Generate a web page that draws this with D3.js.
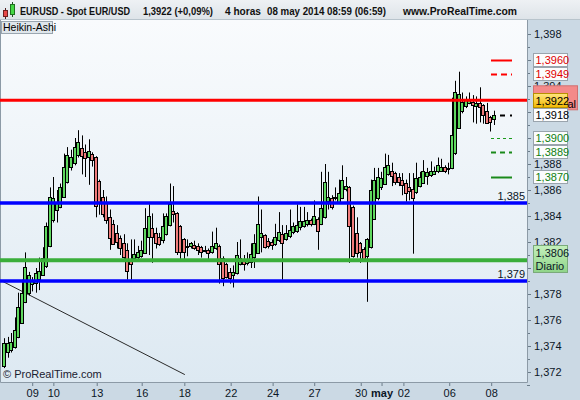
<!DOCTYPE html>
<html><head><meta charset="utf-8">
<script src="https://cdn.jsdelivr.net/npm/d3@7"></script>
<style>
html,body{margin:0;padding:0;background:#cbd9e4;}
svg{display:block;font-family:"Liberation Sans",Arial,sans-serif;}
</style></head><body>
<svg id="c" width="580" height="400"></svg>
<script>
// ---------- DATA (Heikin-Ashi 4h candles, EUR/USD) ----------
const openP = [1.3724,1.3735,1.3737,1.3739,1.3747,1.3758,1.3774,1.3781,1.3788,1.3788,1.3792,1.3795,1.3801,1.3817,1.3837,1.3845,1.3847,1.3855,1.3866,1.3877,
1.3881,1.3887,1.3892,1.3889,1.3885,1.3888,1.3885,1.3867,1.3855,1.3851,1.3839,1.3834,1.3827,1.3823,1.3819,1.3814,1.3805,1.3808,1.3808,1.3809,
1.3812,1.3824,1.3831,1.3827,1.3824,1.3821,1.3826,1.3833,1.3844,1.3842,1.3832,1.3822,1.3816,1.3817,1.3818,1.3817,1.3816,1.3813,1.3814,1.3812,
1.3815,1.3817,1.3808,1.3803,1.3797,1.3795,1.3796,1.3803,1.3806,1.3804,1.3805,1.3808,1.3812,1.3824,1.3825,1.3821,1.3820,1.3819,1.3822,1.3826,
1.3822,1.3824,1.3827,1.3828,1.3831,1.3832,1.3834,1.3837,1.3834,1.3838,1.3834,1.3839,1.3852,1.3854,1.3854,1.3851,1.3854,1.3861,1.3862,1.3847,
1.3827,1.3819,1.3815,1.3809,1.3816,1.3838,1.3854,1.3862,1.3865,1.3872,1.3875,1.3873,1.3870,1.3868,1.3865,1.3862,1.3861,1.3858,1.3863,1.3866,
1.3871,1.3872,1.3873,1.3874,1.3875,1.3878,1.3876,1.3877,1.3888,1.3908,1.3921,1.3924,1.3927,1.3928,1.3925,1.3927,1.3925,1.3921,1.3916,1.3915];
const highP = [1.3746,1.3747,1.3750,1.3762,1.3781,1.3791,1.3812,1.3797,1.3793,1.3800,1.3808,1.3816,1.3835,1.3862,1.3870,1.3860,1.3865,1.3888,1.3893,1.3891,
1.3900,1.3906,1.3902,1.3895,1.3899,1.3889,1.3886,1.3868,1.3860,1.3855,1.3845,1.3837,1.3833,1.3825,1.3826,1.3819,1.3822,1.3822,1.3817,1.3821,
1.3846,1.3849,1.3842,1.3831,1.3827,1.3842,1.3842,1.3865,1.3863,1.3843,1.3833,1.3823,1.3822,1.3820,1.3821,1.3819,1.3817,1.3817,1.3815,1.3828,
1.3831,1.3818,1.3809,1.3804,1.3800,1.3802,1.3820,1.3822,1.3810,1.3812,1.3819,1.3826,1.3855,1.3845,1.3826,1.3823,1.3822,1.3834,1.3843,1.3833,
1.3833,1.3845,1.3835,1.3849,1.3847,1.3847,1.3843,1.3838,1.3852,1.3839,1.3874,1.3880,1.3874,1.3856,1.3862,1.3868,1.3879,1.3870,1.3863,1.3848,
1.3839,1.3820,1.3816,1.3823,1.3868,1.3877,1.3877,1.3874,1.3888,1.3887,1.3881,1.3874,1.3873,1.3873,1.3868,1.3873,1.3873,1.3881,1.3874,1.3883,
1.3877,1.3882,1.3878,1.3885,1.3884,1.3879,1.3881,1.3931,1.3944,1.3951,1.3935,1.3932,1.3935,1.3933,1.3932,1.3939,1.3926,1.3927,1.3917,1.3921];
const lowP = [1.3723,1.3731,1.3735,1.3738,1.3746,1.3757,1.3773,1.3779,1.3782,1.3781,1.3783,1.3794,1.3800,1.3816,1.3835,1.3835,1.3846,1.3854,1.3865,1.3875,
1.3879,1.3885,1.3872,1.3870,1.3864,1.3878,1.3839,1.3841,1.3839,1.3834,1.3814,1.3818,1.3815,1.3810,1.3807,1.3791,1.3791,1.3805,1.3806,1.3808,
1.3811,1.3810,1.3804,1.3815,1.3817,1.3819,1.3825,1.3832,1.3835,1.3810,1.3806,1.3806,1.3809,1.3815,1.3814,1.3810,1.3808,1.3812,1.3805,1.3811,
1.3814,1.3788,1.3786,1.3792,1.3788,1.3785,1.3795,1.3802,1.3798,1.3802,1.3800,1.3800,1.3811,1.3812,1.3815,1.3815,1.3814,1.3817,1.3820,1.3791,
1.3821,1.3823,1.3826,1.3827,1.3829,1.3831,1.3832,1.3832,1.3833,1.3814,1.3833,1.3838,1.3845,1.3845,1.3852,1.3850,1.3853,1.3859,1.3804,1.3808,
1.3808,1.3804,1.3805,1.3774,1.3815,1.3837,1.3852,1.3860,1.3864,1.3871,1.3863,1.3864,1.3863,1.3856,1.3851,1.3852,1.3811,1.3857,1.3862,1.3865,
1.3864,1.3870,1.3872,1.3873,1.3874,1.3873,1.3872,1.3876,1.3887,1.3907,1.3919,1.3923,1.3926,1.3912,1.3911,1.3912,1.3911,1.3911,1.3905,1.3910];
const closeP = [1.3742,1.3742,1.3743,1.3752,1.3770,1.3781,1.3801,1.3795,1.3791,1.3796,1.3798,1.3808,1.3832,1.3855,1.3854,1.3851,1.3862,1.3878,1.3887,1.3885,
1.3893,1.3897,1.3886,1.3884,1.3890,1.3883,1.3847,1.3851,1.3842,1.3837,1.3823,1.3819,1.3820,1.3815,1.3808,1.3798,1.3803,1.3811,1.3812,1.3814,
1.3831,1.3840,1.3824,1.3819,1.3819,1.3832,1.3840,1.3849,1.3842,1.3812,1.3812,1.3812,1.3817,1.3819,1.3816,1.3814,1.3812,1.3814,1.3812,1.3817,
1.3819,1.3803,1.3793,1.3793,1.3792,1.3797,1.3810,1.3808,1.3803,1.3807,1.3811,1.3819,1.3834,1.3827,1.3816,1.3817,1.3818,1.3824,1.3828,1.3819,
1.3827,1.3829,1.3832,1.3833,1.3836,1.3836,1.3837,1.3834,1.3840,1.3829,1.3846,1.3866,1.3855,1.3847,1.3855,1.3858,1.3868,1.3863,1.3832,1.3809,
1.3812,1.3812,1.3807,1.3822,1.3860,1.3868,1.3870,1.3869,1.3878,1.3879,1.3871,1.3866,1.3866,1.3864,1.3857,1.3859,1.3854,1.3869,1.3870,1.3875,
1.3874,1.3875,1.3875,1.3879,1.3878,1.3875,1.3877,1.3902,1.3935,1.3934,1.3928,1.3929,1.3929,1.3926,1.3927,1.3924,1.3917,1.3912,1.3912,1.3918];

const dayTickIndex = [8, 14, 26.3, 39.06, 51.15, 64.3, 76.2, 88, 101.2, 107.1, 113.3, 126.3, 138.2];
const dayTickLabels = ["09","10","13","16","18","22","24","27","30","may","02","06","08"];
const priceMajorTicks = [1.372,1.374,1.376,1.378,1.380,1.382,1.384,1.386,1.388,1.390,1.392,1.394,1.396,1.398];
const priceMinorTicks = [1.371,1.373,1.375,1.377,1.379,1.381,1.383,1.385,1.387,1.389,1.391,1.393,1.395,1.397];
const hiddenTickLabels = [1.380, 1.390, 1.392, 1.396];   // covered by value boxes in the original
const supportLevels = [1.385, 1.379];      // blue
const dailyLevel = 1.3806;                  // green "Diario"
const weeklyLevel = 1.3929;                 // red "Semanal"
const targetValues = [1.3960, 1.3949, 1.3918, 1.3900, 1.3889, 1.3870];
const trendIdx = [-0.6, 51.3];
const trendPrice = [1.3790, 1.3718];
const lastPrice = 1.3922;
const headerTexts = ["EURUSD - Spot EUR/USD", "1,3922 (+0,09%)", "4 horas", "08 may 2014 08:59 (06:59)", "www.ProRealTime.com"];

// ---------- LAYOUT ----------
const W = 580, H = 400;
const plotL = 0, plotR = 527, plotT = 20, plotB = 382;
const svg = d3.select("#c");
const defs = svg.append("defs");
const g1 = defs.append("linearGradient").attr("id","plotbg").attr("x1",0).attr("y1",0).attr("x2",0).attr("y2",1);
g1.append("stop").attr("offset","0").attr("stop-color","#f9fbfd");
g1.append("stop").attr("offset","1").attr("stop-color","#dde9f2");
const g2 = defs.append("linearGradient").attr("id","hdr").attr("x1",0).attr("y1",0).attr("x2",0).attr("y2",1);
g2.append("stop").attr("offset","0").attr("stop-color","#eef1f4");
g2.append("stop").attr("offset","1").attr("stop-color","#dde3e8");
const g3 = defs.append("linearGradient").attr("id","yel").attr("x1",0).attr("y1",0).attr("x2",0).attr("y2",1);
g3.append("stop").attr("offset","0").attr("stop-color","#ffe680");
g3.append("stop").attr("offset","1").attr("stop-color","#f2b800");
const g4 = defs.append("linearGradient").attr("id","grn").attr("x1",0).attr("y1",0).attr("x2",0).attr("y2",1);
g4.append("stop").attr("offset","0").attr("stop-color","#c4f0bc");
g4.append("stop").attr("offset","1").attr("stop-color","#8fd488");
defs.append("clipPath").attr("id","clip").append("rect").attr("x",plotL).attr("y",plotT).attr("width",plotR-plotL).attr("height",plotB-plotT);
defs.append("clipPath").attr("id","clipAl").append("rect").attr("x",567.5).attr("y",0).attr("width",20).attr("height",400);

svg.append("rect").attr("width",W).attr("height",H).attr("fill","#cbd9e4");
svg.append("rect").attr("x",plotL).attr("y",plotT).attr("width",plotR-plotL).attr("height",plotB-plotT).attr("fill","url(#plotbg)");

const x = d3.scaleLinear().domain([0, 139]).range([4, 494]);
const y = d3.scaleLinear().domain([1.372, 1.398]).range([372, 34]);
const fmt3 = d => d3.format(".3f")(d).replace(".", ",");
const fmt4 = d => d3.format(".4f")(d).replace(".", ",");

// ---------- axes ----------
const yAx = svg.append("g").attr("transform",`translate(${plotR},0)`)
  .call(d3.axisRight(y).tickValues(priceMajorTicks).tickSize(4)
    .tickFormat(d => hiddenTickLabels.some(h => Math.abs(h-d) < 1e-6) ? "" : fmt3(d)));
yAx.select(".domain").remove();
yAx.selectAll("line").attr("stroke","#6b7c8a");
yAx.selectAll("text").attr("font-size",11).attr("fill","#0b1626").attr("font-family","Liberation Sans, Arial, sans-serif");
const yMin = svg.append("g").attr("transform",`translate(${plotR},0)`)
  .call(d3.axisRight(y).tickValues(priceMinorTicks).tickSize(3).tickFormat(""));
yMin.select(".domain").remove();
yMin.selectAll("line").attr("stroke","#6b7c8a");

const xAx = svg.append("g").attr("transform",`translate(0,${plotB})`)
  .call(d3.axisBottom(x).tickValues(dayTickIndex).tickSize(4).tickFormat((d,i)=>dayTickLabels[i]));
xAx.select(".domain").remove();
xAx.selectAll("line").attr("stroke","#6b7c8a");
xAx.selectAll("text").attr("font-size",11).attr("fill","#0b1626").attr("font-family","Liberation Sans, Arial, sans-serif")
  .attr("font-weight",(d,i)=>dayTickLabels[i]==="may"?"bold":"normal");

// plot border
svg.append("path").attr("d",`M${plotL+0.5},${plotT}V${plotB+0.5}H${plotR+0.5}V${plotT}`)
  .attr("fill","none").attr("stroke","#8c9aa6");

// ---------- plot content ----------
const plot = svg.append("g").attr("clip-path","url(#clip)");

// trend line
plot.append("line").attr("x1",x(trendIdx[0])).attr("y1",y(trendPrice[0]))
  .attr("x2",x(trendIdx[1])).attr("y2",y(trendPrice[1])).attr("stroke","#2a2a2a").attr("stroke-width",1);

// candles
const idx = d3.range(openP.length);
const cg = plot.append("g");
cg.selectAll("line.w").data(idx).join("line").attr("class","w")
  .attr("x1",i=>Math.round(x(i))+0.5).attr("x2",i=>Math.round(x(i))+0.5)
  .attr("y1",i=>y(highP[i])).attr("y2",i=>y(lowP[i]))
  .attr("stroke","#000").attr("stroke-width",1);
cg.selectAll("rect.b").data(idx).join("rect").attr("class","b")
  .attr("x",i=>Math.round(x(i))-1.5).attr("width",3)
  .attr("y",i=>Math.round(y(Math.max(openP[i],closeP[i])))+0.5)
  .attr("height",i=>Math.max(1,Math.round(y(Math.min(openP[i],closeP[i]))-y(Math.max(openP[i],closeP[i])))))
  .attr("fill",i=>closeP[i]>=openP[i]?"#5fd85f":"#f07c7c")
  .attr("stroke","#000").attr("stroke-width",1);

// horizontal levels
plot.selectAll("line.blue").data(supportLevels).join("line").attr("class","blue")
  .attr("x1",plotL).attr("x2",plotR).attr("y1",d=>y(d)).attr("y2",d=>y(d))
  .attr("stroke","#0000ff").attr("stroke-width",3.5);
plot.append("line").attr("x1",plotL).attr("x2",plotR).attr("y1",y(dailyLevel)).attr("y2",y(dailyLevel))
  .attr("stroke","#3aae3a").attr("stroke-width",4);
plot.append("line").attr("x1",plotL).attr("x2",plotR).attr("y1",y(weeklyLevel)).attr("y2",y(weeklyLevel))
  .attr("stroke","#ff0000").attr("stroke-width",3);

svg.selectAll("text.lvl").data(supportLevels).join("text").attr("class","lvl")
  .attr("x",plotR-2).attr("y",d=>y(d)-3).attr("text-anchor","end")
  .attr("font-size",11).attr("fill","#0b1626").text(fmt3);

// target markers
const tStyle = [
  {c:"#ff0000", w:2, dash:null, x1:491},
  {c:"#ff0000", w:2, dash:"6,4", x1:491},
  {c:"#000000", w:2, dash:"5,5", x1:500},
  {c:"#1a9a1a", w:1, dash:"3,3", x1:491},
  {c:"#1a8a1a", w:2, dash:"5,4", x1:491},
  {c:"#1a8a1a", w:2, dash:null, x1:491}
];
targetValues.forEach((v,k)=>{
  const s = tStyle[k];
  const ln = plot.append("line").attr("x1",s.x1).attr("x2",512).attr("y1",Math.round(y(v))+0.5).attr("y2",Math.round(y(v))+0.5)
    .attr("stroke",s.c).attr("stroke-width",s.w);
  if (s.dash) ln.attr("stroke-dasharray",s.dash);
});

// ---------- right side value boxes ----------
const txtCol = ["#e00000","#e00000","#000000","#108010","#108010","#108010"];
// weekly pink box (two lines), mostly covered by the last-price box
const wy = y(weeklyLevel);
svg.append("rect").attr("x",533.5).attr("y",wy-14.5).attr("width",44).attr("height",24).attr("fill","#f38a8a").attr("stroke","#d07070");
svg.append("text").attr("x",576).attr("y",wy+8).attr("text-anchor","end").attr("font-size",11).attr("fill","#000")
  .attr("clip-path","url(#clipAl)").text("Semanal");

targetValues.forEach((v,k)=>{
  const cy = y(v);
  svg.append("rect").attr("x",533.5).attr("y",Math.round(cy)-6.5).attr("width",34).attr("height",13)
    .attr("fill","#fbfcfd").attr("stroke","#9aa4ad");
  svg.append("text").attr("x",535.5).attr("y",Math.round(cy)+4).attr("font-size",11).attr("fill",txtCol[k]).text(fmt4(v));
});
// last price box (yellow), shifted up to avoid overlap
const ly = y(lastPrice) - 9.5;
svg.append("rect").attr("x",533.5).attr("y",Math.round(ly)-6.5).attr("width",34).attr("height",14)
  .attr("fill","url(#yel)").attr("stroke","#b89000");
svg.append("text").attr("x",535.5).attr("y",Math.round(ly)+4.5).attr("font-size",11).attr("fill","#000").text(fmt4(lastPrice));

// daily green box
const dy = y(dailyLevel);
svg.append("rect").attr("x",533.5).attr("y",Math.round(dy)-14.5).attr("width",34).attr("height",27)
  .attr("fill","url(#grn)").attr("stroke","#7aaa7a");
svg.append("text").attr("x",535.5).attr("y",Math.round(dy)-3).attr("font-size",11).attr("fill","#0b1626").text(fmt4(dailyLevel));
svg.append("text").attr("x",535.5).attr("y",Math.round(dy)+10).attr("font-size",11).attr("fill","#0b1626").text("Diario");

// ---------- header ----------
svg.append("rect").attr("x",0).attr("y",0).attr("width",W).attr("height",20).attr("fill","url(#hdr)");
svg.append("line").attr("x1",0).attr("x2",W).attr("y1",19.5).attr("y2",19.5).attr("stroke","#b8c4cc");
// icon
svg.append("line").attr("x1",5.5).attr("x2",5.5).attr("y1",8).attr("y2",19).attr("stroke","#502020");
svg.append("rect").attr("x",3.5).attr("y",10.5).attr("width",4).attr("height",6).attr("fill","#e84848").attr("stroke","#702020");
svg.append("line").attr("x1",12.5).attr("x2",12.5).attr("y1",2).attr("y2",17).attr("stroke","#205020");
svg.append("rect").attr("x",10.5).attr("y",4.5).attr("width",4).attr("height",10).attr("fill","#44d844").attr("stroke","#207020");
const hdrX = [20, 143, 225, 267, 403];
const hdrLen = [110, 70, 36, 119, 114];
svg.selectAll("text.h").data(headerTexts).join("text").attr("class","h")
  .attr("x",(d,i)=>hdrX[i]).attr("y",15).attr("font-size",11).attr("font-weight","bold").attr("fill","#111")
  .attr("textLength",(d,i)=>hdrLen[i]).attr("lengthAdjust","spacingAndGlyphs").text(d=>d);

// Heikin-Ashi label
svg.append("rect").attr("x",1.5).attr("y",21.5).attr("width",51).attr("height",12).attr("fill","#dfe6eb").attr("stroke","#9aa6b0");
svg.append("text").attr("x",3).attr("y",31).attr("font-size",10.5).attr("fill","#000").text("Heikin-Ashi");

// copyright
svg.append("text").attr("x",3).attr("y",378).attr("font-size",11).attr("fill","#1a2030").text("© ProRealTime.com");
</script>
</body></html>
